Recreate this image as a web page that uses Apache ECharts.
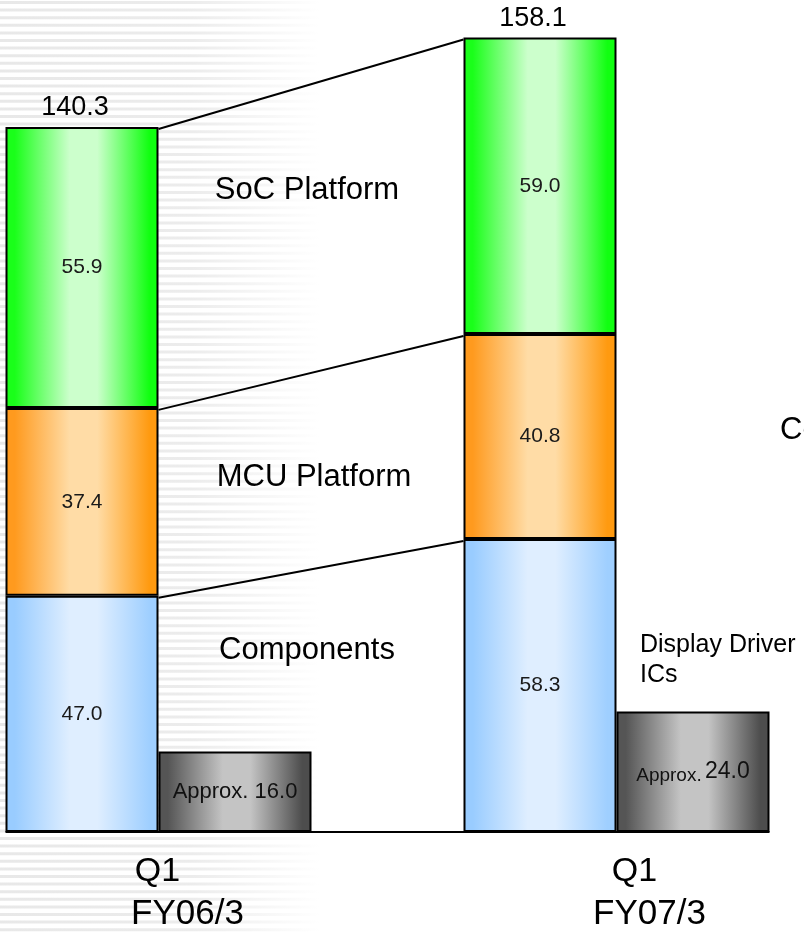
<!DOCTYPE html>
<html><head><meta charset="utf-8">
<script src="https://cdn.jsdelivr.net/npm/echarts@6/dist/echarts.min.js"></script>
<style>html,body{margin:0;padding:0;background:#fff}#c{width:804px;height:935px}</style>
</head><body><div id="c"></div>
<script>
// ---- data ----
const categories = ['Q1\nFY06/3', 'Q1\nFY07/3'];
const components = [47.0, 58.3];
const mcuPlatform = [37.4, 40.8];
const socPlatform = [55.9, 59.0];
const totals = [140.3, 158.1];
const displayDriver = [16.0, 24.0];
const seriesNames = ['Components', 'MCU Platform', 'SoC Platform', 'Display Driver\nICs'];

// ---- styles ----
const NARROW = "'Liberation Sans Narrow','Liberation Sans',Arial,sans-serif";
const SANS = "'Liberation Sans',Arial,sans-serif";
const BAR_W = 153;
function hGrad(edge, mid, edge2) {
  return {type:'linear', x:0, y:0, x2:1, y2:0, colorStops:[
    {offset:0, color:edge},{offset:0.06, color:edge},{offset:0.42, color:mid},{offset:0.6, color:mid},{offset:0.94, color:edge2||edge},{offset:1, color:edge2||edge}]};
}
const borderStyle = {borderColor:'#000', borderWidth:2};
const innerLabel = {show:true, position:'inside', fontFamily:NARROW, fontSize:21, color:'#1a1a1a',
  formatter:(p) => p.value.toFixed(1)};

const chart = echarts.init(document.getElementById('c'), null, {renderer:'canvas'});

// background stripes (decoration)
const bg = [];
for (let y = 1; y < 935; y += 7.6) {
  bg.push({type:'rect', z:-10, silent:true, shape:{x:0, y:y, width:320, height:3},
    style:{fill:{type:'linear', x:0, y:0, x2:1, y2:0, colorStops:[
      {offset:0, color:'#e8e8e8'},{offset:0.6, color:'#ececec'},{offset:1, color:'#ffffff'}]}}});
}
const texts = [
  {type:'text', z:10, x:307, y:190, style:{text:seriesNames[2], font:'31px '+SANS, fill:'#000', align:'center', verticalAlign:'middle'}},
  {type:'text', z:10, x:314, y:477, style:{text:seriesNames[1], font:'31px '+SANS, fill:'#000', align:'center', verticalAlign:'middle'}},
  {type:'text', z:10, x:307, y:650, style:{text:seriesNames[0], font:'31px '+SANS, fill:'#000', align:'center', verticalAlign:'middle'}},
  {type:'text', z:10, x:640, y:630, style:{text:seriesNames[3], font:'25px '+SANS, lineHeight:30, fill:'#000', align:'left', verticalAlign:'top'}},
  {type:'text', z:10, x:780, y:430, style:{text:'Co', font:'31px '+SANS, fill:'#000', align:'left', verticalAlign:'middle'}}
];

const connectorData = [
  [0, totals[0], totals[1]],
  [0, components[0] + mcuPlatform[0], components[1] + mcuPlatform[1]],
  [0, components[0], components[1]]
];

const option = {
  animation:false,
  backgroundColor:'#fff',
  grid:{left:158.5, right:187.5, top:28, bottom:103, containLabel:false},
  xAxis:{type:'category', data:categories, boundaryGap:false,
    axisLine:{show:false}, axisTick:{show:false}, splitLine:{show:false},
    axisLabel:{margin:18, interval:0,
      formatter:(v, i) => { const p = v.split('\n'); return '{q' + i + '|' + p[0] + '}\n{f' + i + '|' + p[1] + '}'; },
      rich:{
        q0:{fontFamily:SANS, fontSize:34, lineHeight:43, color:'#000', align:'center', padding:[0,2,0,0]},
        f0:{fontFamily:SANS, fontSize:35, lineHeight:43, color:'#000', align:'center', padding:[0,0,0,58]},
        q1:{fontFamily:SANS, fontSize:34, lineHeight:43, color:'#000', align:'center', padding:[0,0,0,36]},
        f1:{fontFamily:SANS, fontSize:35, lineHeight:43, color:'#000', align:'center', padding:[0,0,0,66]}
      }}},
  yAxis:{type:'value', min:0, max:160, show:false, splitLine:{show:false}},
  graphic:{elements: bg.concat(texts)},
  series:[
    {name:seriesNames[0], type:'bar', stack:'a', clip:false, barWidth:BAR_W, barGap:'0%', data:components,
      itemStyle:Object.assign({color:hGrad('#99ccff','#dfeeff','#9fcfff')}, borderStyle), label:innerLabel},
    {name:seriesNames[1], type:'bar', stack:'a', clip:false, barWidth:BAR_W, barGap:'0%', data:mcuPlatform,
      itemStyle:Object.assign({color:hGrad('#ff9a1e','#ffdca6','#ff9a10')}, borderStyle), label:innerLabel},
    {name:seriesNames[2], type:'bar', stack:'a', clip:false, barWidth:BAR_W, barGap:'0%', data:socPlatform,
      itemStyle:Object.assign({color:hGrad('#1aff1a','#ccffcc','#11ff11')}, borderStyle), label:innerLabel},
    {name:'Total', type:'bar', stack:'a', clip:false, barWidth:BAR_W, barGap:'0%', data:totals.map(() => 0),
      itemStyle:{color:'rgba(0,0,0,0)', borderWidth:0},
      label:{show:true, position:'top', distance:6, offset:[-7,0], fontFamily:NARROW, fontSize:27, color:'#000',
        formatter:(p) => totals[p.dataIndex].toFixed(1)}},
    {name:'Display Driver ICs', type:'bar', clip:false, barWidth:BAR_W, barGap:'0%', data:displayDriver,
      itemStyle:Object.assign({color:hGrad('#555555','#c4c4c4','#4d4d4d')}, borderStyle),
      label:{show:true, position:'inside', color:'#111', fontFamily:NARROW,
        formatter:(p) => p.dataIndex === 0 ? '{a|Approx. ' + p.value.toFixed(1) + '}' : '{b|Approx.} {c|' + p.value.toFixed(1) + '}',
        rich:{a:{fontFamily:NARROW, fontSize:22, color:'#111'},
              b:{fontFamily:NARROW, fontSize:19, color:'#111', padding:[8,0,0,0]},
              c:{fontFamily:NARROW, fontSize:23, color:'#111'}}}},
    {name:'connectors', type:'custom', silent:true, clip:false, z:5, encode:{x:0, y:1}, data:connectorData,
      renderItem:(params, api) => {
        const a = api.coord([0, api.value(1)]);
        const b = api.coord([1, api.value(2)]);
        return {type:'line', shape:{x1:a[0], y1:a[1] + 2, x2:b[0] - BAR_W, y2:b[1] + 2}, style:{stroke:'#000', lineWidth:2}};
      }},
    {name:'baseline', type:'custom', silent:true, clip:false, z:5, encode:{x:0, y:1}, data:[[0, 0]],
      renderItem:(params, api) => {
        const a = api.coord([0, 0]);
        const b = api.coord([1, 0]);
        return {type:'line', shape:{x1:a[0] - BAR_W, y1:a[1], x2:b[0] + BAR_W, y2:b[1]}, style:{stroke:'#000', lineWidth:2}};
      }}
  ]
};
chart.setOption(option);
</script>
</body></html>
